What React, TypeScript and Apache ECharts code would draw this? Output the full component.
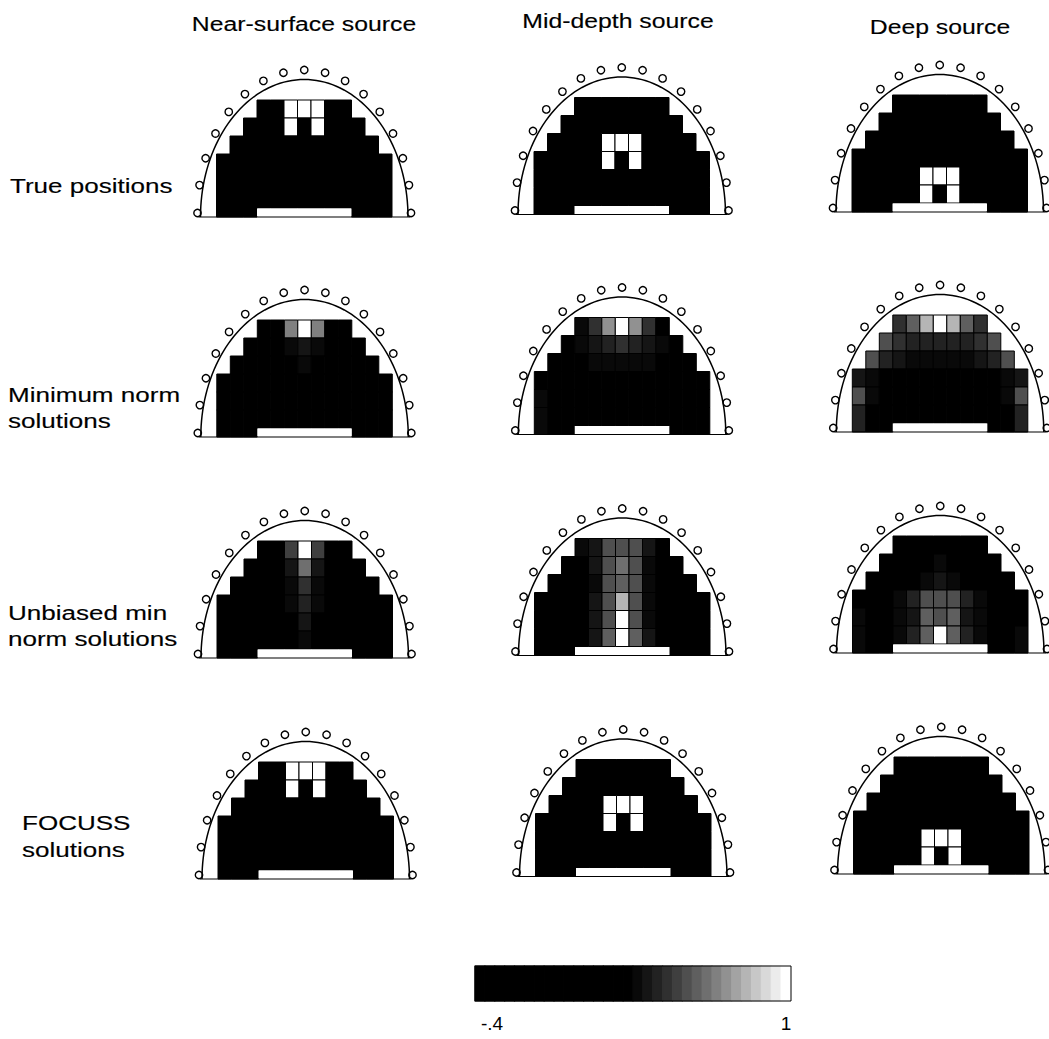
import React, { useEffect, useRef } from 'react';
import * as echarts from 'echarts';

const COLUMN_TITLES = ['Near-surface source', 'Mid-depth source', 'Deep source'];
const ROW_TITLES: string[][] = [
  ['True positions'],
  ['Minimum norm', 'solutions'],
  ['Unbiased min', 'norm solutions'],
  ['FOCUSS', 'solutions'],
];

// Voxel amplitudes, top row first. Rows hold 7, 9, 11, 13, 13, 13 voxels,
// centred on a 13-column grid.
const TRUE_NEAR = [
  [0, 0, 1, 1, 1, 0, 0],
  [0, 0, 0, 1, 0, 1, 0, 0, 0],
  [0, 0, 0, 0, 0, 0, 0, 0, 0, 0, 0],
  [0, 0, 0, 0, 0, 0, 0, 0, 0, 0, 0, 0, 0],
  [0, 0, 0, 0, 0, 0, 0, 0, 0, 0, 0, 0, 0],
  [0, 0, 0, 0, 0, 0, 0, 0, 0, 0, 0, 0, 0],
];
const TRUE_MID = [
  [0, 0, 0, 0, 0, 0, 0],
  [0, 0, 0, 0, 0, 0, 0, 0, 0],
  [0, 0, 0, 0, 1, 1, 1, 0, 0, 0, 0],
  [0, 0, 0, 0, 0, 1, 0, 1, 0, 0, 0, 0, 0],
  [0, 0, 0, 0, 0, 0, 0, 0, 0, 0, 0, 0, 0],
  [0, 0, 0, 0, 0, 0, 0, 0, 0, 0, 0, 0, 0],
];
const TRUE_DEEP = [
  [0, 0, 0, 0, 0, 0, 0],
  [0, 0, 0, 0, 0, 0, 0, 0, 0],
  [0, 0, 0, 0, 0, 0, 0, 0, 0, 0, 0],
  [0, 0, 0, 0, 0, 0, 0, 0, 0, 0, 0, 0, 0],
  [0, 0, 0, 0, 0, 1, 1, 1, 0, 0, 0, 0, 0],
  [0, 0, 0, 0, 0, 1, 0, 1, 0, 0, 0, 0, 0],
];

const MN_NEAR = [
  [0.1, 0.15, 0.65, 1, 0.65, 0.15, 0.1],
  [0.05, 0.1, 0.15, 0.33, 0.36, 0.33, 0.15, 0.1, 0.05],
  [0.05, 0.05, 0.1, 0.15, 0.2, 0.3, 0.2, 0.15, 0.1, 0.05, 0.05],
  [0.05, 0.05, 0.05, 0.1, 0.1, 0.15, 0.2, 0.15, 0.1, 0.1, 0.05, 0.05, 0.05],
  [0.1, 0.05, 0.05, 0.05, 0.1, 0.1, 0.15, 0.1, 0.1, 0.05, 0.05, 0.05, 0.1],
  [0.15, 0.1, 0.05, 0.05, 0.05, 0.1, 0.1, 0.1, 0.05, 0.05, 0.05, 0.1, 0.15],
];
const MN_MID = [
  [0.32, 0.45, 0.7, 1, 0.7, 0.45, 0.28],
  [0.15, 0.34, 0.38, 0.42, 0.45, 0.42, 0.38, 0.34, 0.2],
  [0.1, 0.2, 0.28, 0.3, 0.32, 0.33, 0.32, 0.3, 0.28, 0.2, 0.1],
  [0.22, 0.15, 0.15, 0.2, 0.22, 0.25, 0.25, 0.25, 0.22, 0.2, 0.15, 0.15, 0.2],
  [0.33, 0.15, 0.1, 0.1, 0.15, 0.15, 0.15, 0.15, 0.15, 0.1, 0.1, 0.15, 0.28],
  [0.33, 0.15, 0.1, 0.1, 0.1, 0.1, 0.15, 0.1, 0.1, 0.1, 0.1, 0.15, 0.28],
];
const MN_DEEP = [
  [0.45, 0.6, 0.8, 1, 0.8, 0.6, 0.45],
  [0.55, 0.45, 0.4, 0.4, 0.42, 0.4, 0.4, 0.45, 0.55],
  [0.55, 0.42, 0.36, 0.34, 0.33, 0.33, 0.33, 0.34, 0.36, 0.42, 0.55],
  [0.36, 0.3, 0.28, 0.25, 0.25, 0.25, 0.25, 0.25, 0.25, 0.25, 0.28, 0.3, 0.36],
  [0.55, 0.3, 0.2, 0.2, 0.2, 0.2, 0.2, 0.2, 0.2, 0.2, 0.2, 0.3, 0.55],
  [0.4, 0.28, 0.2, 0.15, 0.15, 0.15, 0.15, 0.15, 0.15, 0.15, 0.2, 0.28, 0.4],
];

const UMN_NEAR = [
  [0.1, 0.15, 0.5, 1, 0.5, 0.15, 0.1],
  [0.05, 0.1, 0.15, 0.36, 0.62, 0.36, 0.15, 0.1, 0.05],
  [0.05, 0.05, 0.1, 0.15, 0.32, 0.45, 0.32, 0.15, 0.1, 0.05, 0.05],
  [0.05, 0.05, 0.05, 0.1, 0.15, 0.3, 0.4, 0.3, 0.15, 0.1, 0.05, 0.05, 0.05],
  [0.05, 0.05, 0.05, 0.1, 0.15, 0.28, 0.36, 0.28, 0.15, 0.1, 0.05, 0.05, 0.05],
  [0.1, 0.05, 0.05, 0.1, 0.15, 0.25, 0.33, 0.25, 0.15, 0.1, 0.05, 0.05, 0.1],
];
const UMN_MID = [
  [0.3, 0.36, 0.55, 0.55, 0.52, 0.35, 0.22],
  [0.15, 0.22, 0.35, 0.55, 0.62, 0.55, 0.32, 0.2, 0.15],
  [0.1, 0.15, 0.22, 0.34, 0.55, 0.6, 0.55, 0.32, 0.2, 0.15, 0.1],
  [0.1, 0.1, 0.15, 0.22, 0.35, 0.55, 0.8, 0.55, 0.33, 0.2, 0.15, 0.1, 0.1],
  [0.1, 0.1, 0.15, 0.22, 0.35, 0.56, 1, 0.56, 0.33, 0.2, 0.15, 0.1, 0.1],
  [0.15, 0.1, 0.15, 0.22, 0.36, 0.58, 1, 0.58, 0.35, 0.2, 0.15, 0.1, 0.12],
];
const UMN_DEEP = [
  [0.1, 0.15, 0.2, 0.22, 0.2, 0.15, 0.1],
  [0.1, 0.15, 0.2, 0.25, 0.3, 0.25, 0.2, 0.15, 0.1],
  [0.1, 0.15, 0.2, 0.26, 0.34, 0.38, 0.34, 0.26, 0.2, 0.15, 0.1],
  [0.15, 0.15, 0.2, 0.33, 0.4, 0.55, 0.55, 0.55, 0.4, 0.3, 0.2, 0.15, 0.15],
  [0.3, 0.15, 0.22, 0.33, 0.38, 0.6, 0.55, 0.6, 0.38, 0.3, 0.2, 0.15, 0.25],
  [0.33, 0.2, 0.22, 0.33, 0.4, 0.6, 1, 0.6, 0.4, 0.33, 0.22, 0.2, 0.3],
];

const FOCUSS_NEAR = TRUE_NEAR.map((r) => r.slice());
const FOCUSS_MID = TRUE_MID.map((r) => r.slice());
const FOCUSS_DEEP = TRUE_DEEP.map((r) => r.slice());

const PANELS: number[][][][] = [
  [TRUE_NEAR, TRUE_MID, TRUE_DEEP],
  [MN_NEAR, MN_MID, MN_DEEP],
  [UMN_NEAR, UMN_MID, UMN_DEEP],
  [FOCUSS_NEAR, FOCUSS_MID, FOCUSS_DEEP],
];

const SCALE_MIN = -0.4;
const SCALE_MAX = 1;
const SCALE_LEVELS = 32;
const SCALE_TICKS = [
  { value: -0.4, label: '-.4' },
  { value: 1, label: '1' },
];

// grid geometry
const N_COLS = 13;
const N_ROWS = 6;
const BASE_STRIP = 0.5; // half-row strip under the last voxel row
const BASE_BAR = [3, 10]; // white marker columns in the base strip
const CELL_W = 13.5;
const ROW_H = 18;
const GRID_W = N_COLS * CELL_W;
const GRID_H = (N_ROWS + BASE_STRIP) * ROW_H;
const COL_LEFT = [216.5, 534, 852];
const COL_DY = [0, -2.5, -5];
const ROW_TOP = [100, 320, 541, 762];
const ROW_DX = [0, 0.3, 0.5, 1.5];

const FONT = '"Liberation Sans", Arial, Helvetica, sans-serif';

function grayRamp(i: number): string {
  const firstGray = SCALE_LEVELS / 2;
  if (i < firstGray) return '#000000';
  const t = (i - firstGray + 1) / (SCALE_LEVELS - firstGray);
  const g = Math.round(255 * Math.pow(t, 1.2));
  const h = g.toString(16).padStart(2, '0');
  return '#' + h + h + h;
}

function panelCells(rows: number[][]) {
  const out: number[][] = [];
  rows.forEach((row, r) => {
    const off = (N_COLS - row.length) / 2;
    row.forEach((v, j) => {
      const c = off + j;
      const last = r === rows.length - 1;
      const outside = c < BASE_BAR[0] || c >= BASE_BAR[1];
      out.push([c, r, v, last && outside ? 1 + BASE_STRIP : 1]);
    });
  });
  return out;
}

function semiEllipse(cx: number, cy: number, rx: number, ry: number, n: number) {
  const pts: number[][] = [];
  for (let k = 0; k <= n; k++) {
    const a = (Math.PI * k) / n;
    pts.push([cx - rx * Math.cos(a), cy - ry * Math.sin(a)]);
  }
  return pts;
}

export default function App() {
  const ref = useRef<HTMLDivElement>(null);

  useEffect(() => {
    if (!ref.current) return;
    const chart = echarts.init(ref.current, undefined, { renderer: 'svg' });

    const grids: any[] = [];
    const xAxes: any[] = [];
    const yAxes: any[] = [];
    const series: any[] = [];
    const graphics: any[] = [];
    const mappedSeries: number[] = [];

    PANELS.forEach((rowPanels, r) => {
      rowPanels.forEach((panel, c) => {
        const left = COL_LEFT[c] + ROW_DX[r];
        const top = ROW_TOP[r] + COL_DY[c];
        const gi = grids.length;
        grids.push({ left, top, width: GRID_W, height: GRID_H, show: false });
        xAxes.push({ gridIndex: gi, type: 'value', min: 0, max: N_COLS, show: false });
        yAxes.push({ gridIndex: gi, type: 'value', min: 0, max: N_ROWS + BASE_STRIP, inverse: true, show: false });

        mappedSeries.push(series.length);
        series.push({
          type: 'custom',
          xAxisIndex: gi,
          yAxisIndex: gi,
          data: panelCells(panel),
          renderItem: (_p: any, api: any) => {
            const x = api.value(0);
            const y = api.value(1);
            const h = api.value(3);
            const a = api.coord([x, y]);
            const b = api.coord([x + 1, y + h]);
            return {
              type: 'rect',
              shape: { x: a[0], y: a[1], width: b[0] - a[0], height: b[1] - a[1] },
              style: { fill: api.visual('color'), stroke: '#000', lineWidth: 1 },
            };
          },
        });
        // white marker in the base strip
        series.push({
          type: 'custom',
          xAxisIndex: gi,
          yAxisIndex: gi,
          data: [[BASE_BAR[0], N_ROWS, BASE_BAR[1], N_ROWS + BASE_STRIP]],
          renderItem: (_p: any, api: any) => {
            const a = api.coord([api.value(0), api.value(1)]);
            const b = api.coord([api.value(2), api.value(3)]);
            return {
              type: 'rect',
              shape: { x: a[0], y: a[1] + 0.5, width: b[0] - a[0], height: b[1] - a[1] - 1 },
              style: { fill: '#fff' },
            };
          },
        });

        // head outline, base line and electrodes
        const cx = left + GRID_W / 2;
        const base = top + GRID_H;
        const rx = GRID_W / 2 + 16;
        const ry = GRID_H + 20.5;
        for (let k = 0; k <= 16; k++) {
          const a = (Math.PI * k) / 16;
          graphics.push({
            type: 'circle',
            z: 20,
            shape: {
              cx: cx - (GRID_W / 2 + 19) * Math.cos(a),
              cy: base - 4 - (GRID_H + 26) * Math.sin(a),
              r: 3.7,
            },
            style: { fill: '#fff', stroke: '#000', lineWidth: 1.4 },
          });
        }
        graphics.push({
          type: 'polyline',
          z: 21,
          shape: { points: semiEllipse(cx, base, rx, ry, 80) },
          style: { fill: 'none', stroke: '#000', lineWidth: 1.5 },
        });
        graphics.push({
          type: 'line',
          z: 21,
          shape: { x1: cx - rx - 2, y1: base, x2: cx + rx + 2, y2: base },
          style: { stroke: '#000', lineWidth: 1.2 },
        });
      });
    });

    // colour scale bar
    const step = (SCALE_MAX - SCALE_MIN) / SCALE_LEVELS;
    const bands: number[][] = [];
    for (let i = 0; i < SCALE_LEVELS; i++) {
      const lo = SCALE_MIN + i * step;
      bands.push([lo, lo + step, lo + step / 2]);
    }
    const cg = grids.length;
    grids.push({
      left: 475,
      top: 966,
      width: 316,
      height: 35,
      show: true,
      z: 10,
      backgroundColor: 'transparent',
      borderColor: '#000',
      borderWidth: 1,
    });
    xAxes.push({
      gridIndex: cg,
      type: 'value',
      min: SCALE_MIN,
      max: SCALE_MAX,
      interval: SCALE_MAX - SCALE_MIN,
      splitLine: { show: false },
      axisLine: { show: false },
      axisTick: { show: false },
      axisLabel: {
        margin: 13,
        color: '#000',
        fontFamily: FONT,
        fontSize: 19,
        showMinLabel: true,
        showMaxLabel: true,
        formatter: (v: number) => {
          const t = SCALE_TICKS.find((s) => Math.abs(s.value - v) < 1e-9);
          if (!t) return '';
          return t.value === SCALE_MIN ? '{lo|' + t.label + '}' : '{hi|' + t.label + '}';
        },
        rich: {
          lo: { padding: [0, 0, 0, 34], fontSize: 19, fontFamily: FONT, color: '#000' },
          hi: { padding: [0, 10, 0, 0], fontSize: 19, fontFamily: FONT, color: '#000' },
        },
      },
    });
    yAxes.push({ gridIndex: cg, type: 'value', min: 0, max: 1, show: false });
    mappedSeries.push(series.length);
    series.push({
      type: 'custom',
      xAxisIndex: cg,
      yAxisIndex: cg,
      data: bands,
      renderItem: (_p: any, api: any) => {
        const a = api.coord([api.value(0), 1]);
        const b = api.coord([api.value(1), 0]);
        const col = api.visual('color');
        return {
          type: 'rect',
          shape: { x: a[0], y: a[1], width: b[0] - a[0], height: b[1] - a[1] },
          style: { fill: col, stroke: col, lineWidth: 1.2 },
        };
      },
    });

    const pieces = bands.map((b, i) =>
      i === SCALE_LEVELS - 1
        ? { gte: b[0], lte: SCALE_MAX + 1e-9, color: grayRamp(i) }
        : { gte: b[0], lt: b[1], color: grayRamp(i) }
    );
    pieces[0] = { ...pieces[0], gte: SCALE_MIN - 10 } as any;

    // titles
    const titleX = [304, 618, 940];
    const titleY = [24, 21, 27];
    const textStyle = { font: '21px ' + FONT, fill: '#000', stroke: '#000', lineWidth: 0.15 };
    COLUMN_TITLES.forEach((t, i) => {
      graphics.push({
        type: 'text',
        x: titleX[i],
        y: titleY[i],
        scaleX: 1.18,
        style: { ...textStyle, text: t, align: 'center', verticalAlign: 'middle' },
      });
    });
    const labelPos = [
      [{ x: 10, y: 186 }],
      [{ x: 8, y: 395 }, { x: 8, y: 421 }],
      [{ x: 8, y: 613 }, { x: 8, y: 639 }],
      [{ x: 22, y: 823 }, { x: 22, y: 850 }],
    ];
    ROW_TITLES.forEach((lines, r) => {
      lines.forEach((t, k) => {
        graphics.push({
          type: 'text',
          x: labelPos[r][k].x,
          y: labelPos[r][k].y,
          scaleX: 1.24,
          style: { ...textStyle, text: t, align: 'left', verticalAlign: 'middle' },
        });
      });
    });

    chart.setOption({
      animation: false,
      backgroundColor: '#fff',
      grid: grids,
      xAxis: xAxes,
      yAxis: yAxes,
      visualMap: {
        type: 'piecewise',
        show: false,
        dimension: 2,
        seriesIndex: mappedSeries,
        pieces,
      },
      series,
      graphic: graphics,
    });

    return () => chart.dispose();
  }, []);

  return (
    <div
      ref={ref}
      style={{ position: 'absolute', left: 0, top: 0, width: 1049, height: 1039, background: '#fff' }}
    />
  );
}
